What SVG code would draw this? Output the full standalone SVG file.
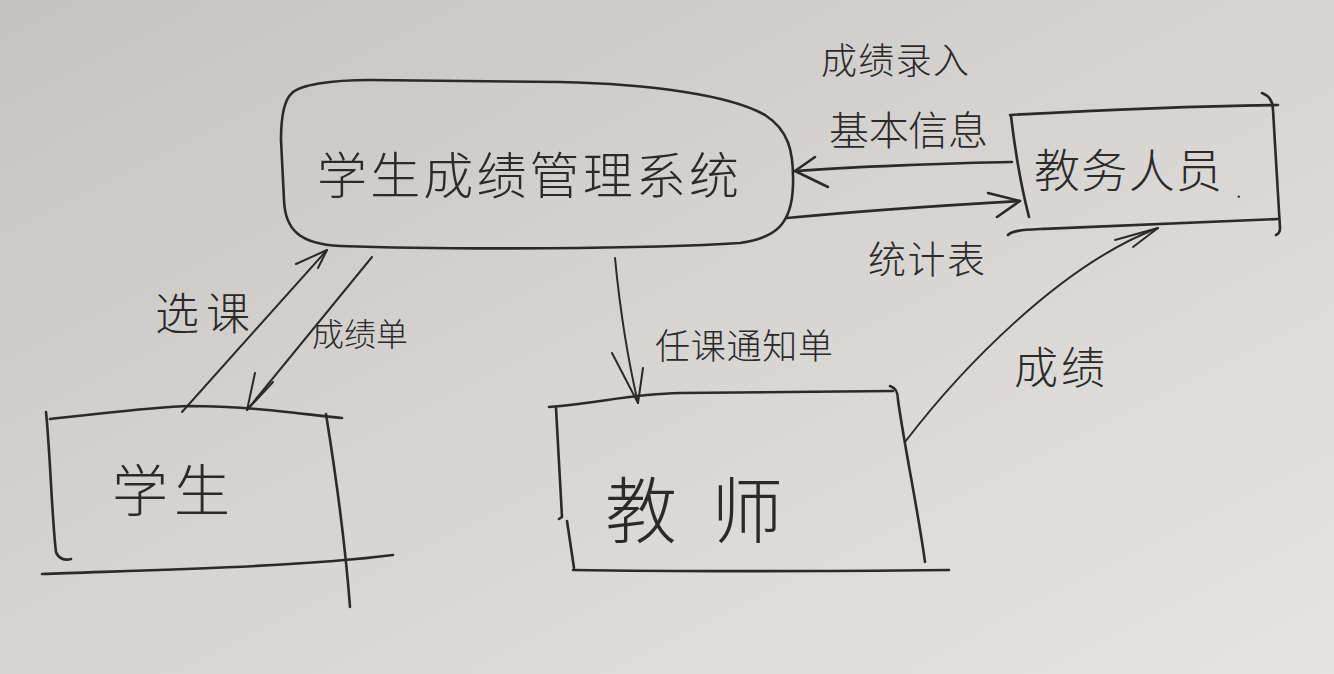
<svg xmlns="http://www.w3.org/2000/svg" width="1334" height="674" viewBox="0 0 1334 674">
  <defs>
    <!-- paper tone: darker upper-left, lighter lower-right -->
    <linearGradient id="paper" x1="0" y1="0" x2="1" y2="1">
      <stop offset="0" stop-color="#c6c4c1"/>
      <stop offset="0.5" stop-color="#d7d5d2"/>
      <stop offset="1" stop-color="#e6e4e1"/>
    </linearGradient>
    <style>
      .ink { fill: none; stroke: #2b2a29; stroke-width: 2.6; stroke-linecap: round; stroke-linejoin: round; }
      .thin { stroke-width: 2; }
      .lbl { font-family: "Noto Sans CJK SC", "Noto Sans", sans-serif; font-weight: 300; fill: #2b2a29; dominant-baseline: central; }
    </style>
  </defs>

  <rect width="1334" height="674" fill="url(#paper)"/>

  <!-- central process -->
  <g id="system">
    <path class="ink" d="M 292,93 C 300,85 330,80 370,80 L 560,82 C 650,84 730,95 765,115 C 788,130 794,150 793,185 C 792,225 775,238 740,243 C 650,249 450,250 340,246 C 300,244 285,230 284,200 L 281,140 C 281,115 284,100 292,93 Z"/>
    <text class="lbl" x="317" y="172" font-size="50" textLength="422" lengthAdjust="spacing">学生成绩管理系统</text>
  </g>

  <!-- academic affairs staff -->
  <g id="staff">
    <path class="ink" d="M 1010,115 C 1100,110 1200,106 1278,105"/>
    <path class="ink" d="M 1262,93 C 1270,96 1273,102 1273,110 L 1280,228 C 1280,232 1279,234 1276,235"/>
    <path class="ink" d="M 1011,116 C 1015,150 1022,190 1029,217"/>
    <path class="ink" d="M 1008,235 C 1012,231 1020,230 1040,229 C 1120,226 1200,222 1278,219"/>
    <text class="lbl" x="1034" y="167" font-size="46" textLength="188" lengthAdjust="spacing">教务人员</text>
    <text class="lbl" x="1236" y="188" font-size="22">.</text>
  </g>

  <!-- student -->
  <g id="student">
    <path class="ink" d="M 50,419 C 100,414 150,407 190,406 C 250,406 300,414 342,418"/>
    <path class="ink" d="M 46,412 C 50,450 52,520 56,552 C 58,558 64,561 71,559"/>
    <path class="ink" d="M 326,414 C 335,470 345,540 350,607"/>
    <path class="ink" d="M 42,574 C 150,570 300,567 393,555"/>
    <text class="lbl" x="112" y="486" font-size="56" textLength="118" lengthAdjust="spacing">学生</text>
  </g>

  <!-- teacher -->
  <g id="teacher">
    <path class="ink" d="M 549,407 C 600,403 630,394 680,393 L 893,391"/>
    <path class="ink" d="M 890,386 C 896,388 898,392 898,400 C 905,450 918,510 925,562"/>
    <path class="ink" d="M 556,408 L 562,517 L 559,519 M 567,521 L 574,568"/>
    <path class="ink" d="M 573,570 C 700,572 850,571 949,570"/>
    <text class="lbl" x="605" y="505" font-size="72" textLength="178" lengthAdjust="spacing">教师</text>
  </g>

  <!-- data flows -->
  <g id="connectors">
    <!-- staff -> system : 基本信息 -->
    <path class="ink" d="M 1012,162 C 950,163 850,167 795,171"/>
    <path class="ink" d="M 815,157 L 795,171 L 828,187"/>
    <!-- system -> staff : 统计表 -->
    <path class="ink" d="M 787,218 C 850,212 950,205 1020,201"/>
    <path class="ink" d="M 988,193 L 1020,201 L 997,217"/>
    <!-- student -> system : 选课 -->
    <path class="ink thin" d="M 182,412 L 327,250"/>
    <path class="ink thin" d="M 296,264 L 327,250 L 318,268"/>
    <!-- system -> student : 成绩单 -->
    <path class="ink thin" d="M 372,257 L 247,410"/>
    <path class="ink thin" d="M 255,373 L 247,410 L 273,382"/>
    <!-- system -> teacher : 任课通知单 -->
    <path class="ink thin" d="M 615,258 C 620,310 628,360 638,403"/>
    <path class="ink thin" d="M 612,353 L 638,403 L 643,368"/>
    <!-- teacher -> staff : 成绩 -->
    <path class="ink thin" d="M 905,442 C 960,370 1060,265 1158,228"/>
    <path class="ink thin" d="M 1115,240 L 1158,228 M 1133,247 L 1158,228"/>
  </g>

  <!-- flow labels -->
  <g id="labels">
    <text class="lbl" x="821" y="58" font-size="36" textLength="148" lengthAdjust="spacing">成绩录入</text>
    <text class="lbl" x="829" y="128" font-size="40" textLength="159" lengthAdjust="spacing">基本信息</text>
    <text class="lbl" x="868" y="256" font-size="38" textLength="117" lengthAdjust="spacing">统计表</text>
    <text class="lbl" x="155" y="311" font-size="44" textLength="95" lengthAdjust="spacing">选课</text>
    <text class="lbl" x="312" y="332" font-size="32" textLength="96" lengthAdjust="spacing">成绩单</text>
    <text class="lbl" x="655" y="343" font-size="35" textLength="178" lengthAdjust="spacing">任课通知单</text>
    <text class="lbl" x="1014" y="365" font-size="44" textLength="91" lengthAdjust="spacing">成绩</text>
  </g>
</svg>
